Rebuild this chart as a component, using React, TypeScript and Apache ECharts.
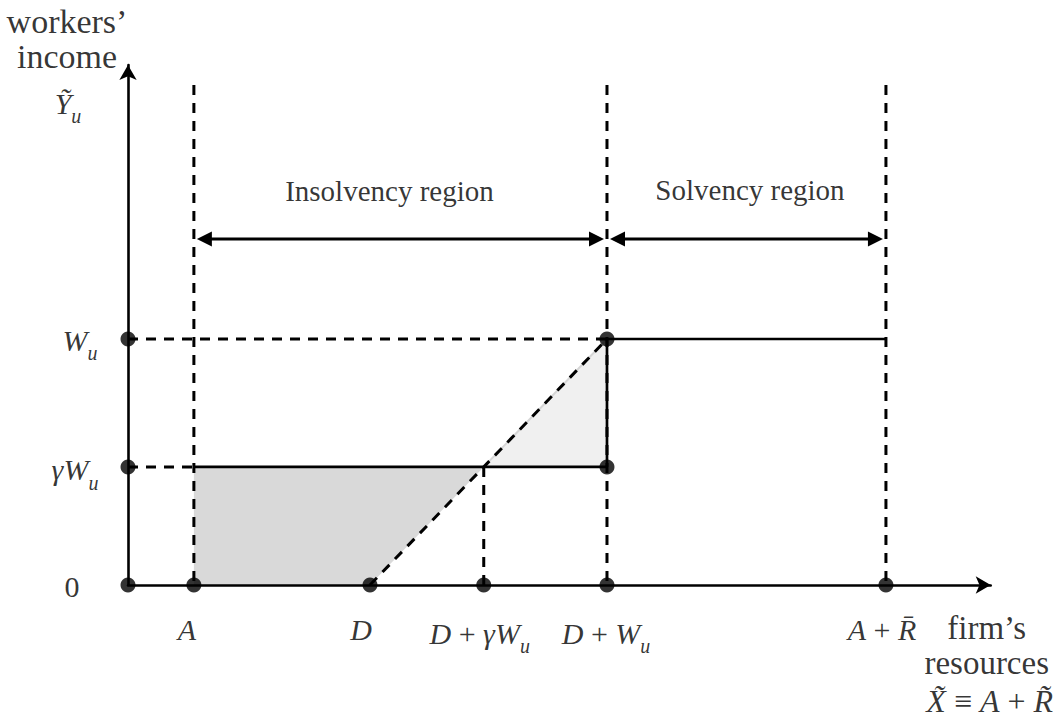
import React, { useEffect, useRef } from 'react';
import * as echarts from 'echarts';

// ---- data (abstract units: W_u = 1 on the income axis) ----
const xKeyNames = ['A', 'D', 'D + γW_u', 'D + W_u', 'A + R̄'];
const xKeyValues = [0.278, 1.021, 1.501, 2.021, 3.198];
const yKeyNames = ['0', 'γW_u', 'W_u'];
const yKeyValues = [0, 0.48, 1];
const xAxisMax = 3.64;
const yAxisMax = 2.114;
const boundaryTop = 2.033;
const regionArrowLevel = 1.407;
const regionNames = ['Insolvency region', 'Solvency region'];

const [A, D, DgW, DW, AR] = xKeyValues;
const [Y0, gW, W] = yKeyValues;

const shadeDark = [[A, Y0], [A, gW], [DgW, gW], [D, Y0]];
const shadeLight = [[DgW, gW], [DW, W], [DW, gW]];
const dashedSegments = [
  [A, boundaryTop, A, Y0],
  [DW, boundaryTop, DW, Y0],
  [AR, boundaryTop, AR, Y0],
  [DgW, gW, DgW, Y0],
  [0, W, DW, W],
  [0, gW, A, gW],
  [D, Y0, DW, W],
];
const solidSegments = [
  [A, gW, DW, gW],
  [DW, gW, DW, W],
  [DW, W, AR, W],
];
const dotPoints = [
  [0, Y0], [0, gW], [0, W],
  [A, Y0], [D, Y0], [DgW, Y0], [DW, Y0], [AR, Y0],
  [DW, gW], [DW, W],
];
const regionArrows = [
  [A, DW, regionArrowLevel],
  [DW, AR, regionArrowLevel],
];

// ---- texts ----
const labelTexts = [
  '{t|workers\u2019}\n{t|income}',
  '{i|\u1EF8}{s|u}',
  '{r|0}',
  '{i|W}{s|u}',
  '{i|γW}{s|u}',
  '{i|A}',
  '{i|D}',
  '{i|D}{r| + }{i|γW}{s|u}',
  '{i|D}{r| + }{i|W}{s|u}',
  '{i|A}{r| + }{i|R\u0304}',
  '{f|firm\u2019s}\n{f|resources}',
  '{I|X\u0303}{R| \u2261 }{I|A}{R| + }{I|R\u0303}',
  '{n|' + regionNames[0] + '}',
  '{n|' + regionNames[1] + '}',
];
const labelAnchors = [
  [0, yAxisMax],
  [0, yAxisMax],
  [0, Y0],
  [0, W],
  [0, gW],
  [A, Y0],
  [D, Y0],
  [DgW, Y0],
  [DW, Y0],
  [AR, Y0],
  [xAxisMax, Y0],
  [xAxisMax, Y0],
  [(A + DW) / 2, regionArrowLevel],
  [(DW + AR) / 2, regionArrowLevel],
];
const labelOffsets = [
  [-61, -26],
  [-60, 38],
  [-56, 1],
  [-48, 1],
  [-53, 3],
  [-7, 44],
  [-9, 44],
  [-4, 48],
  [-1, 48],
  [-4, 44],
  [-4, 60],
  [-1, 116],
  [-11, -47],
  [3.5, -48],
];

const SERIF = "'Times New Roman', 'Liberation Serif', serif";
const axisLineStyle = { color: '#000', width: 2.6 };

function polygonSeries(points: number[][], fill: string, stroke?: string) {
  return {
    type: 'custom',
    z: 1,
    silent: true,
    data: points,
    encode: { x: 0, y: 1 },
    renderItem: (params: any, api: any) => {
      if (params.dataIndex !== 0) return null;
      const pts = points.map((p) => api.coord(p));
      return {
        type: 'polygon',
        shape: { points: pts },
        style: stroke ? { fill, stroke, lineWidth: 2 } : { fill },
      };
    },
  };
}

function segmentSeries(segs: number[][], dashed: boolean, z: number) {
  return {
    type: 'custom',
    z,
    silent: true,
    data: segs,
    encode: { x: [0, 2], y: [1, 3] },
    renderItem: (params: any, api: any) => {
      const p1 = api.coord([api.value(0), api.value(1)]);
      const p2 = api.coord([api.value(2), api.value(3)]);
      return {
        type: 'line',
        shape: { x1: p1[0], y1: p1[1], x2: p2[0], y2: p2[1] },
        style: dashed
          ? { stroke: '#000', lineWidth: 3, lineDash: [10, 8], lineCap: 'butt' }
          : { stroke: '#000', lineWidth: 2.7 },
      };
    },
  };
}

const mathRich = {
  i: { fontFamily: SERIF, fontSize: 30, fontStyle: 'italic', lineHeight: 30, verticalAlign: 'top', color: '#000' },
  r: { fontFamily: SERIF, fontSize: 30, lineHeight: 30, verticalAlign: 'top', color: '#000' },
  s: { fontFamily: SERIF, fontSize: 20, fontStyle: 'italic', lineHeight: 20, padding: [18, 0, 0, 0], verticalAlign: 'top', color: '#000' },
  I: { fontFamily: SERIF, fontSize: 32, fontStyle: 'italic', lineHeight: 32, verticalAlign: 'top', color: '#000' },
  R: { fontFamily: SERIF, fontSize: 32, lineHeight: 32, verticalAlign: 'top', color: '#000' },
  n: { fontFamily: SERIF, fontSize: 29, lineHeight: 30, verticalAlign: 'top', color: '#000' },
  t: { fontFamily: SERIF, fontSize: 34, lineHeight: 35, color: '#000' },
  f: { fontFamily: SERIF, fontSize: 33, lineHeight: 35, color: '#000' },
};

const option: any = {
  animation: false,
  backgroundColor: '#fff',
  grid: { left: 128, right: 72.3, top: 65, bottom: 137 },
  xAxis: {
    type: 'value', min: 0, max: xAxisMax, z: 3,
    axisLine: { show: true, symbol: ['none', 'arrow'], symbolSize: [13, 15], lineStyle: axisLineStyle },
    axisTick: { show: false }, axisLabel: { show: false }, splitLine: { show: false },
  },
  yAxis: {
    type: 'value', min: 0, max: yAxisMax, z: 3,
    axisLine: { show: true, symbol: ['none', 'arrow'], symbolSize: [13, 15], lineStyle: axisLineStyle },
    axisTick: { show: false }, axisLabel: { show: false }, splitLine: { show: false },
  },
  series: [
    polygonSeries(shadeDark, '#d9d9d9'),
    polygonSeries(shadeLight, '#f0f0f0', '#d6d6d6'),
    segmentSeries(dashedSegments, true, 2),
    segmentSeries(solidSegments, false, 2),
    {
      type: 'custom',
      z: 2,
      silent: true,
      data: regionArrows,
      encode: { x: [0, 1], y: 2 },
      renderItem: (params: any, api: any) => {
        const lvl = api.value(2);
        const p1 = api.coord([api.value(0), lvl]);
        const p2 = api.coord([api.value(1), lvl]);
        const gap = 3, len = 15, hw = 7.5;
        const l = p1[0] + gap, r = p2[0] - gap, cy = p1[1];
        return {
          type: 'group',
          children: [
            { type: 'line', shape: { x1: l + len - 2, y1: cy, x2: r - len + 2, y2: cy }, style: { stroke: '#000', lineWidth: 3 } },
            { type: 'polygon', shape: { points: [[l, cy], [l + len, cy - hw], [l + len, cy + hw]] }, style: { fill: '#000' } },
            { type: 'polygon', shape: { points: [[r, cy], [r - len, cy - hw], [r - len, cy + hw]] }, style: { fill: '#000' } },
          ],
        };
      },
    },
    {
      type: 'scatter',
      z: 5,
      silent: true,
      symbol: 'circle',
      symbolSize: 15,
      itemStyle: { color: '#000' },
      data: dotPoints,
    },
    {
      type: 'scatter',
      z: 6,
      silent: true,
      symbolSize: 1,
      itemStyle: { color: 'rgba(0,0,0,0)' },
      label: {
        show: true,
        position: 'inside',
        fontFamily: SERIF,
        fontSize: 30,
        lineHeight: 35,
        color: '#000',
        formatter: (p: any) => labelTexts[p.dataIndex],
        rich: mathRich,
      },
      data: labelAnchors.map((v, i) => ({ value: v, label: { offset: labelOffsets[i] } })),
    },
  ],
};

export default function App() {
  const ref = useRef<HTMLDivElement>(null);
  useEffect(() => {
    const chart = echarts.init(ref.current!, null, { renderer: 'svg' });
    chart.setOption(option);
    return () => chart.dispose();
  }, []);
  return (
    <div
      ref={ref}
      style={{ position: 'fixed', left: 0, top: 0, width: 1063, height: 722, background: '#fff' }}
    />
  );
}
